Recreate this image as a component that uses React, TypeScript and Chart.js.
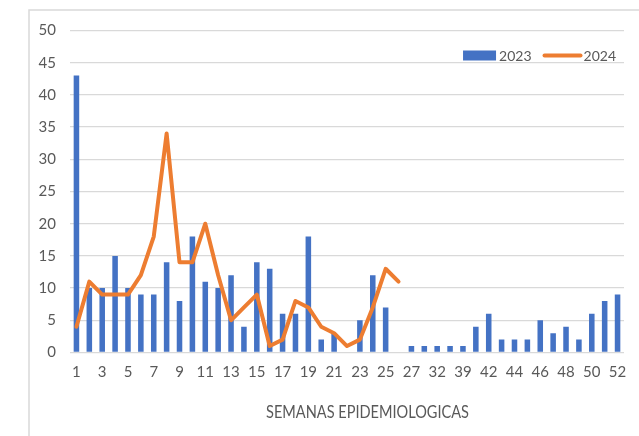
import React, { useEffect, useRef } from 'react';
import { Chart, registerables } from 'chart.js';

Chart.register(...registerables);

// ---- data ----
const weeks = [
  '1', '2', '3', '4', '5', '6', '7', '8', '9', '10', '11', '12', '13',
  '14', '15', '16', '17', '18', '19', '20', '21', '22', '23', '24', '25', '26',
  '27', '30', '32', '36', '39', '40',
  '42', '43', '44', '45', '46', '47', '48', '49', '50', '51', '52',
];
const cases2023 = [
  43, 10, 10, 15, 10, 9, 9, 14, 8, 18, 11, 10, 12,
  4, 14, 13, 6, 6, 18, 2, 3, 0, 5, 12, 7, 0,
  1, 1, 1, 1, 1, 4,
  6, 2, 2, 2, 5, 3, 4, 2, 6, 8, 9,
];
const cases2024: (number | null)[] = [
  4, 11, 9, 9, 9, 12, 18, 34, 14, 14, 20, 12, 5,
  7, 9, 1, 2, 8, 7, 4, 3, 1, 2, 7, 13, 11,
  null, null, null, null, null, null,
  null, null, null, null, null, null, null, null, null, null, null,
];
const seriesNames = ['2023', '2024'];
const xTitle = 'SEMANAS EPIDEMIOLOGICAS';
const yMin = 0;
const yMax = 50;
const yStep = 5;

const BLUE = '#4472C4';
const ORANGE = '#ED7D31';
const TEXT = '#595959';
const GRID = '#D9D9D9';
const FONT = 'Lato, "Open Sans", "Liberation Sans", sans-serif';

const decorPlugin = {
  id: 'decor',
  beforeDraw(chart: any) {
    const ctx = chart.ctx;
    ctx.save();
    ctx.fillStyle = '#ffffff';
    ctx.fillRect(0, 0, chart.width, chart.height);
    ctx.strokeStyle = GRID;
    ctx.lineWidth = 1.5;
    ctx.beginPath();
    ctx.moveTo(29, chart.height);
    ctx.lineTo(29, 10);
    ctx.lineTo(chart.width, 10);
    ctx.stroke();
    ctx.restore();
  },
  afterDraw(chart: any) {
    const ctx = chart.ctx;
    const area = chart.chartArea;
    ctx.save();
    // legend
    ctx.font = `14px ${FONT}`;
    ctx.textBaseline = 'middle';
    ctx.fillStyle = TEXT;
    const cy = area.top + 25;
    const w2024 = ctx.measureText(seriesNames[1]).width;
    const w2023 = ctx.measureText(seriesNames[0]).width;
    const xEnd = area.right - 8;
    const t2Start = xEnd - w2024;
    const lineEnd = t2Start - 3;
    const lineStart = lineEnd - 36;
    const t1End = lineStart - 13;
    const t1Start = t1End - w2023;
    const boxEnd = t1Start - 3;
    const boxStart = boxEnd - 33;
    ctx.fillStyle = BLUE;
    ctx.fillRect(boxStart, cy - 5, 33, 10);
    ctx.fillStyle = TEXT;
    ctx.textAlign = 'left';
    ctx.fillText(seriesNames[0], t1Start, cy + 1);
    ctx.strokeStyle = ORANGE;
    ctx.lineWidth = 4;
    ctx.lineCap = 'round';
    ctx.beginPath();
    ctx.moveTo(lineStart, cy);
    ctx.lineTo(lineEnd, cy);
    ctx.stroke();
    ctx.fillText(seriesNames[1], t2Start, cy + 1);
    // x title (condensed to match reference width)
    ctx.font = `17.5px ${FONT}`;
    ctx.textAlign = 'center';
    const tw = ctx.measureText(xTitle).width;
    const sx = Math.min(1, 203 / tw);
    ctx.translate(367.5, 412);
    ctx.scale(sx, 1);
    ctx.fillText(xTitle, 0, 0);
    ctx.restore();
  },
};

export default function App() {
  const canvasRef = useRef<HTMLCanvasElement | null>(null);

  useEffect(() => {
    const canvas = canvasRef.current;
    if (!canvas) return;
    const chart = new Chart(canvas, {
      type: 'bar',
      data: {
        labels: weeks,
        datasets: [
          {
            type: 'line',
            label: seriesNames[1],
            data: cases2024,
            borderColor: ORANGE,
            backgroundColor: ORANGE,
            borderWidth: 4,
            pointRadius: 0,
            tension: 0,
            borderJoinStyle: 'round',
            borderCapStyle: 'round',
            spanGaps: false,
            order: 0,
          } as any,
          {
            type: 'bar',
            label: seriesNames[0],
            data: cases2023,
            backgroundColor: BLUE,
            barPercentage: 0.43,
            categoryPercentage: 1,
            order: 1,
          },
        ],
      },
      options: {
        animation: false,
        responsive: false,
        maintainAspectRatio: false,
        devicePixelRatio: 1,
        layout: { padding: { top: 30.5, right: 15, bottom: 0, left: 0 } },
        plugins: {
          legend: { display: false },
          tooltip: { enabled: false },
          title: { display: false },
        },
        scales: {
          x: {
            grid: { display: false, drawTicks: false },
            border: { display: false },
            ticks: {
              color: TEXT,
              font: { family: FONT, size: 15 },
              autoSkip: false,
              maxRotation: 0,
              minRotation: 0,
              padding: 11,
              callback: (_v: any, i: number) => (i % 2 === 0 ? weeks[i] : ''),
            },
            afterFit: (scale: any) => {
              scale.height = 83.5;
            },
          },
          y: {
            min: yMin,
            max: yMax,
            grid: { color: GRID, lineWidth: 1.3, drawTicks: false },
            border: { display: false },
            ticks: {
              stepSize: yStep,
              color: TEXT,
              font: { family: FONT, size: 15 },
              padding: 14,
            },
            afterFit: (scale: any) => {
              scale.width = 70;
            },
          },
        },
      },
      plugins: [decorPlugin],
    });
    return () => chart.destroy();
  }, []);

  return (
    <div style={{ position: 'fixed', left: 0, top: 0, width: 639, height: 436, background: '#fff' }}>
      <canvas ref={canvasRef} width={639} height={436} style={{ width: 639, height: 436, display: 'block' }} />
    </div>
  );
}
